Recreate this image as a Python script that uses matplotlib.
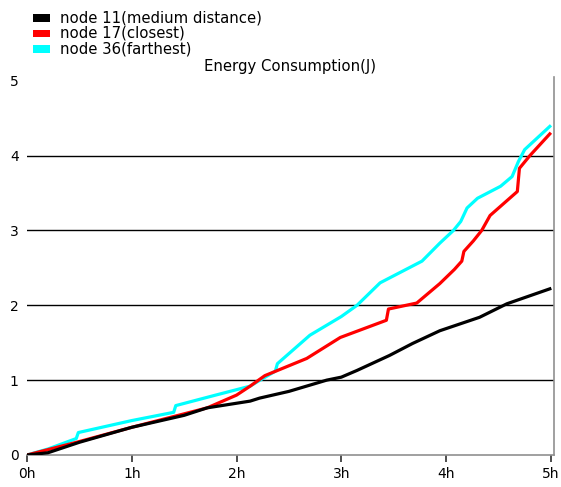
import matplotlib.pyplot as plt
from matplotlib.patches import Rectangle

# values (hours, joules)
hours_11 = [0, 0.2, 0.5, 1.0, 1.5, 1.72, 2.13, 2.22, 2.5, 2.86, 3.0, 3.15,
            3.46, 3.68, 3.94, 4.32, 4.58, 4.99]
energy_11 = [0, 0.03, 0.17, 0.37, 0.53, 0.63, 0.72, 0.76, 0.85, 1.0, 1.04,
             1.13, 1.33, 1.49, 1.66, 1.84, 2.02, 2.22]

hours_17 = [0, 0.5, 1.0, 1.5, 1.72, 2.0, 2.13, 2.27, 2.67, 2.99, 3.43, 3.45,
            3.72, 3.94, 4.08, 4.15, 4.17, 4.26, 4.34, 4.42, 4.68, 4.70, 4.8,
            4.99]
energy_17 = [0, 0.18, 0.37, 0.55, 0.63, 0.8, 0.92, 1.06, 1.29, 1.57, 1.80,
             1.95, 2.03, 2.29, 2.48, 2.59, 2.72, 2.86, 3.0, 3.2, 3.52, 3.83,
             4.0, 4.29]

hours_36 = [0, 0.2, 0.47, 0.49, 1.0, 1.4, 1.42, 1.8, 2.13, 2.2, 2.37, 2.39,
            2.7, 3.0, 3.15, 3.37, 3.77, 3.94, 4.07, 4.14, 4.2, 4.3, 4.52,
            4.63, 4.69, 4.75, 4.99]
energy_36 = [0, 0.08, 0.22, 0.30, 0.46, 0.57, 0.66, 0.80, 0.92, 0.98, 1.12,
             1.22, 1.6, 1.85, 2.0, 2.3, 2.59, 2.83, 3.0, 3.12, 3.3, 3.43, 3.59,
             3.72, 3.92, 4.08, 4.39]

x_ticks = [0, 1, 2, 3, 4, 5]
x_labels = ["0h", "1h", "2h", "3h", "4h", "5h"]
y_ticks = [0, 1, 2, 3, 4, 5]
grid_levels = [1, 2, 3, 4]

legend_names = ["node 11(medium distance)", "node 17(closest)",
                "node 36(farthest)"]
legend_colors = ["#000000", "#ff0000", "#00ffff"]

plt.rcParams['font.family'] = ['DejaVu Sans']

W, H = 561, 487
fig = plt.figure(figsize=(W / 100, H / 100), dpi=100)
ax = fig.add_axes([27 / W, 32 / H, 527 / W, 378 / H])

for level in grid_levels:
    ax.axhline(level, color="#000000", linewidth=1.0, zorder=1)

ax.plot(hours_36, energy_36, color="#00ffff", linewidth=2.3, zorder=2)
ax.plot(hours_17, energy_17, color="#ff0000", linewidth=2.3, zorder=3)
ax.plot(hours_11, energy_11, color="#000000", linewidth=2.3, zorder=4)

ax.set_xlim(0, 5.03)
ax.set_ylim(0, 5.05)
ax.set_xticks(x_ticks)
ax.set_xticklabels(x_labels)
ax.set_yticks(y_ticks)
ax.tick_params(axis="x", direction="out", length=5, width=1.2,
               color="#303030", labelsize=10, pad=4)
ax.tick_params(axis="y", length=0, labelsize=10, pad=6)

for side in ("left", "top"):
    ax.spines[side].set_visible(False)
for side in ("bottom", "right"):
    ax.spines[side].set_color("#909090")
    ax.spines[side].set_linewidth(1.2)

fig.text(290 / W, 1 - 66 / H, "Energy Consumption(J)", ha="center",
         va="center", fontsize=10.7)

# legend drawn by hand: small wide swatches with text to the right
for i, (name, color) in enumerate(zip(legend_names, legend_colors)):
    yc = 18 + 15.5 * i
    fig.patches.append(Rectangle((33 / W, 1 - (yc + 3.5) / H), 17 / W,
                                 7 / H, transform=fig.transFigure,
                                 facecolor=color, edgecolor="none"))
    fig.text(60 / W, 1 - yc / H, name, ha="left", va="center",
             fontsize=10.7)

fig.savefig("out.png", dpi=100)
